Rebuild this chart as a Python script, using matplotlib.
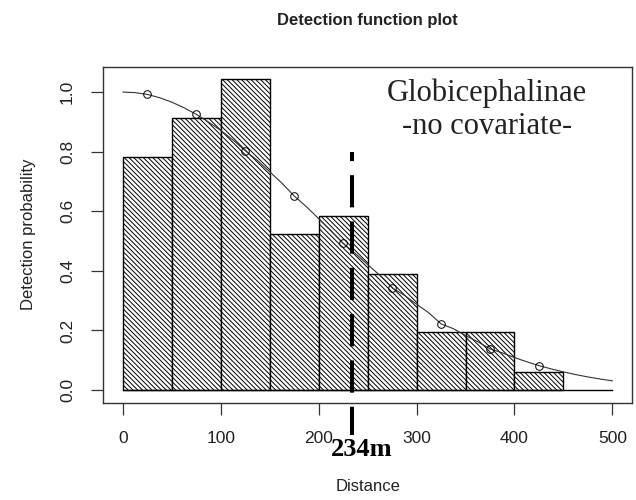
import numpy as np
import matplotlib.pyplot as plt

plt.rcParams['font.family'] = ['Liberation Sans', 'DejaVu Sans']
plt.rcParams['hatch.linewidth'] = 0.7

# histogram of scaled detections, 50 m bins
bin_edges = [0, 50, 100, 150, 200, 250, 300, 350, 400, 450]
bar_heights = [0.783, 0.912, 1.044, 0.523, 0.585, 0.390, 0.195, 0.195, 0.061]

# fitted detection function
curve_x = [0, 12.5, 25, 37.5, 50, 62.5, 75, 87.5, 100, 112.5, 125, 137.5, 150,
           162.5, 175, 187.5, 200, 212.5, 225, 237.5, 250, 262.5, 275, 287.5, 300,
           312.5, 325, 337.5, 350, 362.5, 375, 387.5, 400, 412.5, 425, 437.5, 450,
           462.5, 475, 487.5, 500]
curve_g = [1.000, 0.998, 0.992, 0.981, 0.966, 0.947, 0.925, 0.899, 0.871, 0.839, 0.803,
           0.770, 0.732, 0.694, 0.651, 0.615, 0.575, 0.535, 0.492, 0.458, 0.421,
           0.385, 0.343, 0.318, 0.288, 0.259, 0.222, 0.206, 0.183, 0.162, 0.138,
           0.125, 0.109, 0.095, 0.082, 0.071, 0.061, 0.052, 0.044, 0.037, 0.031]

# detection function at the bin midpoints
mid_x = [25, 75, 125, 175, 225, 275, 325, 375, 425]
mid_g = [0.992, 0.925, 0.803, 0.651, 0.492, 0.343, 0.222, 0.138, 0.082]

# effective strip half width
eshw = 234
eshw_label = '234m'
eshw_top = 0.8

xticks = [0, 100, 200, 300, 400, 500]
yticks = [0.0, 0.2, 0.4, 0.6, 0.8, 1.0]

fig = plt.figure(figsize=(6.36, 5.0), dpi=100)
ax = fig.add_axes([0.1626, 0.195, 0.831, 0.672])

widths = np.diff(bin_edges)
ax.bar(bin_edges[:-1], bar_heights, width=widths, align='edge',
       facecolor='white', edgecolor='black', linewidth=1.0, hatch='\\' * 7)
ax.plot([bin_edges[0], curve_x[-1]], [0, 0], color='black', lw=1.0)

# fitted line and midpoints
ax.plot(curve_x, curve_g, color='#333333', lw=0.8)
ax.plot(mid_x, mid_g, 'o', mfc='none', mec='black', ms=5.5, mew=0.7)

# ESHW marker
ax.plot([eshw, eshw], [eshw_top, -0.151], color='black', lw=2.9,
        linestyle=(5.75, (8, 3.5)), dash_capstyle='butt', clip_on=False)
ax.text(eshw + 10, -0.198, eshw_label, family='Liberation Serif', weight='bold',
        size=19, ha='center', va='center', clip_on=False)

ax.text(372, 0.997, 'Globicephalinae', family='Liberation Serif', size=22,
        ha='center', va='center', color='#222222')
ax.text(372, 0.883, '-no covariate-', family='Liberation Serif', size=22,
        ha='center', va='center', color='#222222')

# R style 4% padding on both axes
xspan = curve_x[-1] - curve_x[0]
ymax = max(bar_heights)
ax.set_xlim(curve_x[0] - 0.04 * xspan, curve_x[-1] + 0.04 * xspan)
ax.set_ylim(-0.04 * ymax, 1.04 * ymax)

ax.set_xticks(xticks)
ax.set_yticks(yticks)
ax.set_xticklabels([str(t) for t in xticks])
ax.set_yticklabels(['%.1f' % t for t in yticks])
ax.tick_params(axis='both', length=8.5, width=0.9, labelsize=12.5, pad=12,
               color='#333333', labelcolor='#222222')
ax.tick_params(axis='y', labelrotation=90)
for lab in ax.get_yticklabels():
    lab.set_va('center')

for sp in ax.spines.values():
    sp.set_linewidth(1.0)
    sp.set_color('#333333')

ax.set_xlabel('Distance', size=12, color='#222222')
ax.set_ylabel('Detection probability', size=12, color='#222222')
ax.xaxis.set_label_coords(0.5, -0.2276)
ax.yaxis.set_label_coords(-0.1275, 0.5)

fig.text(0.578, 0.96, 'Detection function plot', weight='bold', size=12,
         ha='center', va='center', color='#222222')

fig.savefig('out.png', dpi=100)
